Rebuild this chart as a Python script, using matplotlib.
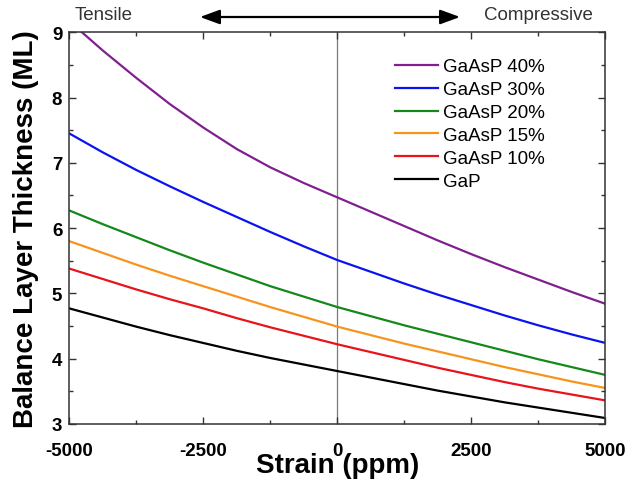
import matplotlib
matplotlib.use("Agg")
import matplotlib.pyplot as plt
from matplotlib.ticker import MultipleLocator

plt.rcParams['font.family'] = ['Liberation Sans', 'DejaVu Sans']
plt.rcParams['axes.unicode_minus'] = False

strain = [-5000, -4375, -3750, -3125, -2500, -1875, -1250, -625, 0,
          625, 1250, 1875, 2500, 3125, 3750, 4375, 5000]

# balance layer thickness (ML) per composition
gaasp40 = [9.17, 8.72, 8.30, 7.90, 7.54, 7.21, 6.93, 6.69, 6.47,
           6.25, 6.03, 5.81, 5.60, 5.40, 5.21, 5.02, 4.84]
gaasp30 = [7.45, 7.16, 6.89, 6.64, 6.40, 6.17, 5.94, 5.72, 5.51,
           5.33, 5.15, 4.98, 4.82, 4.66, 4.51, 4.37, 4.24]
gaasp20 = [6.27, 6.06, 5.86, 5.66, 5.47, 5.29, 5.11, 4.95, 4.79,
           4.65, 4.51, 4.38, 4.25, 4.12, 3.99, 3.87, 3.75]
gaasp15 = [5.80, 5.62, 5.44, 5.27, 5.11, 4.95, 4.79, 4.64, 4.49,
           4.36, 4.23, 4.11, 3.99, 3.87, 3.76, 3.65, 3.55]
gaasp10 = [5.38, 5.22, 5.06, 4.91, 4.77, 4.62, 4.48, 4.35, 4.22,
           4.10, 3.98, 3.86, 3.75, 3.64, 3.54, 3.45, 3.36]
gap = [4.77, 4.63, 4.49, 4.36, 4.24, 4.12, 4.01, 3.91, 3.81,
       3.71, 3.61, 3.51, 3.42, 3.33, 3.25, 3.17, 3.09]

labels = ["GaAsP 40%", "GaAsP 30%", "GaAsP 20%", "GaAsP 15%", "GaAsP 10%", "GaP"]
colors = ["#80208f", "#0a14f0", "#14891a", "#f7941d", "#e8141c", "#000000"]
series = [gaasp40, gaasp30, gaasp20, gaasp15, gaasp10, gap]

fig = plt.figure(figsize=(6.27, 4.89), dpi=100)
ax = fig.add_axes([0.1105, 0.131, 0.8552, 0.801])

ax.axvline(0, color="#7a7a7a", lw=0.9, zorder=1)
for ys, lab, c in zip(series, labels, colors):
    ax.plot(strain, ys, color=c, lw=1.6, label=lab, zorder=2)

ax.set_xlim(-5000, 5000)
ax.set_ylim(3, 9)
ax.xaxis.set_major_locator(MultipleLocator(2500))
ax.xaxis.set_minor_locator(MultipleLocator(1250))
ax.yaxis.set_major_locator(MultipleLocator(1))
ax.yaxis.set_minor_locator(MultipleLocator(0.5))
ax.tick_params(which="both", direction="in", top=True, right=True, width=1.0, color="#333333")
ax.tick_params(which="major", length=5)
ax.tick_params(which="minor", length=3)
ax.tick_params(axis="x", pad=13, labelsize=13.5)
ax.tick_params(axis="y", pad=5, labelsize=13.5)
for lab in ax.get_xticklabels() + ax.get_yticklabels():
    lab.set_fontweight("bold")
for sp in ax.spines.values():
    sp.set_linewidth(1.1)
    sp.set_color("#333333")

ax.set_xlabel("Strain (ppm)", fontsize=20, fontweight="bold")
ax.set_ylabel("Balance Layer Thickness (ML)", fontsize=20, fontweight="bold")
ax.xaxis.set_label_coords(0.5, -0.071)
ax.yaxis.set_label_coords(-0.057, 0.5)

ax.legend(loc="upper left", bbox_to_anchor=(0.607, 0.934), frameon=False,
          fontsize=13.5, handlelength=2.3, handletextpad=0.27,
          labelspacing=0.31, borderpad=0, borderaxespad=0)

# tensile / compressive annotation above the plot
fig.text(75 / 627, 1 - 16 / 489, "Tensile", fontsize=13.5, color="#333333",
         ha="left", va="center")
fig.text(593 / 627, 1 - 16 / 489, "Compressive", fontsize=13.5, color="#333333",
         ha="right", va="center")
ax.annotate("", xy=(460 / 627, 1 - 18 / 489), xytext=(200 / 627, 1 - 18 / 489),
            xycoords="figure fraction", textcoords="figure fraction",
            arrowprops=dict(arrowstyle="<|-|>,head_length=0.6,head_width=0.22",
                            mutation_scale=20, lw=1.6, color="black",
                            shrinkA=0, shrinkB=0))

fig.savefig("out.png", dpi=100)
